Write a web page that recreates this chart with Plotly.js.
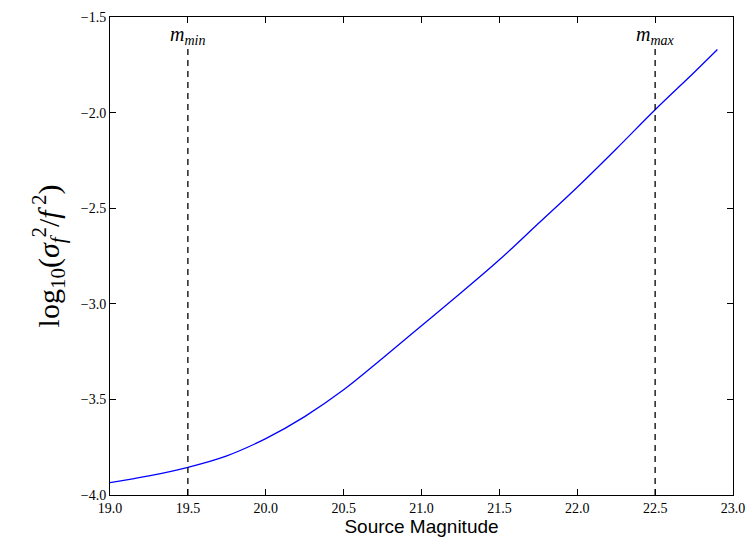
<!DOCTYPE html>
<html><head><meta charset="utf-8">
<script src="https://cdn.plot.ly/plotly-3.0.1.min.js"></script>
<style>body{margin:0}</style></head>
<body><div id="c" style="width:754px;height:550px"></div>
<script>
const magnitudes = [19.0,19.25,19.5,19.75,20.0,20.25,20.5,20.75,21.0,21.25,21.5,21.75,22.0,22.25,22.5,22.75,22.9];
const logVar = [-3.935,-3.9,-3.855,-3.795,-3.705,-3.59,-3.45,-3.285,-3.115,-2.945,-2.77,-2.58,-2.39,-2.19,-1.985,-1.79,-1.67];
const limitX = [19.5, 22.5];
const limitLabels = ['<i>m</i><sub><i>min</i></sub>', '<i>m</i><sub><i>max</i></sub>'];
const lineBottom = -4.0, lineTop = -1.65;

const traces = [{x: magnitudes, y: logVar, mode: 'lines', line: {color: '#0000ff', width: 1.3, shape: 'spline', smoothing: 1}, hoverinfo: 'skip'}];
limitX.forEach(v => traces.push({x: [v, v], y: [lineBottom, lineTop], mode: 'lines', line: {color: 'black', width: 1.3, dash: '6px,5px'}}));

const ann = limitX.map((v, i) => ({x: v, y: lineTop, xref: 'x', yref: 'y', text: limitLabels[i], showarrow: false, yanchor: 'bottom', yshift: -4, font: {family: 'Liberation Serif', size: 20, color: 'black'}}));

const ax = {showline: true, linecolor: 'black', linewidth: 1, mirror: 'ticks', ticks: 'inside', ticklen: 6, tickcolor: 'black', showgrid: false, zeroline: false, tickfont: {family: 'Liberation Serif', size: 14, color: 'black'}};
Plotly.newPlot('c', traces, {
  width: 754, height: 550, showlegend: false,
  margin: {l: 110, r: 21, t: 17, b: 55},
  paper_bgcolor: 'white', plot_bgcolor: 'white',
  xaxis: Object.assign({}, ax, {range: [19, 23], dtick: 0.5, tickformat: '.1f', title: {text: 'Source Magnitude', font: {family: 'Liberation Sans', size: 19, color: 'black'}, standoff: 4}}),
  yaxis: Object.assign({}, ax, {range: [-4, -1.5], dtick: 0.5, tickformat: '.1f', title: {text: 'log<sub>10</sub>(<i>σ</i><sub><i>f</i></sub><sup>2</sup>/<i>f</i><sup> 2</sup>)', font: {family: 'Liberation Serif', size: 30, color: 'black'}, standoff: 12}}),
  annotations: ann
}, {staticPlot: true});
</script></body></html>
